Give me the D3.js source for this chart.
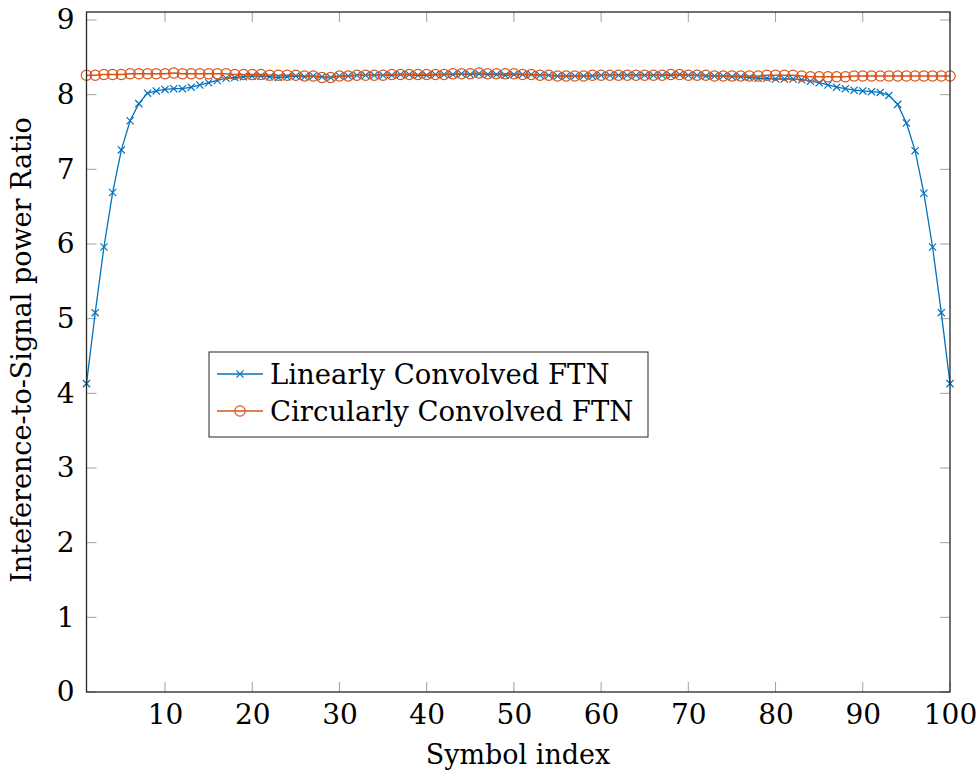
<!DOCTYPE html>
<html>
<head>
<meta charset="utf-8">
<script src="https://cdn.jsdelivr.net/npm/d3@7"></script>
<style>
  html, body { margin: 0; padding: 0; background: #fff; }
  svg text { font-family: "DejaVu Serif", "Liberation Serif", serif; fill: #000; }
</style>
</head>
<body>
<svg id="chart" width="976" height="773"></svg>
<script>
// Symbol index 1..100
const symbolIndex = d3.range(1, 101);

// Interference-to-signal power ratio, linear convolution
const linearISR = [
  4.13, 5.08, 5.96, 6.69, 7.26, 7.65, 7.88, 8.02, 8.05, 8.07,
  8.08, 8.08, 8.10, 8.13, 8.16, 8.19, 8.22, 8.23, 8.24, 8.25,
  8.25, 8.24, 8.23, 8.24, 8.25, 8.24, 8.25, 8.24, 8.23, 8.25,
  8.25, 8.26, 8.26, 8.26, 8.26, 8.26, 8.27, 8.27, 8.26, 8.26,
  8.27, 8.27, 8.27, 8.28, 8.27, 8.28, 8.27, 8.27, 8.26, 8.27,
  8.27, 8.27, 8.26, 8.26, 8.25, 8.25, 8.25, 8.25, 8.25, 8.26,
  8.26, 8.26, 8.26, 8.26, 8.26, 8.26, 8.26, 8.26, 8.27, 8.26,
  8.26, 8.25, 8.25, 8.25, 8.24, 8.24, 8.23, 8.22, 8.22, 8.21,
  8.21, 8.21, 8.20, 8.18, 8.16, 8.13, 8.10, 8.08, 8.06, 8.05,
  8.04, 8.03, 7.99, 7.87, 7.62, 7.25, 6.68, 5.96, 5.08, 4.13
];

// Interference-to-signal power ratio, circular convolution
const circularISR = [
  8.26, 8.26, 8.27, 8.27, 8.27, 8.28, 8.28, 8.28, 8.28, 8.28,
  8.29, 8.28, 8.28, 8.28, 8.28, 8.28, 8.28, 8.27, 8.27, 8.27,
  8.27, 8.26, 8.26, 8.26, 8.26, 8.25, 8.25, 8.23, 8.23, 8.25,
  8.25, 8.26, 8.26, 8.26, 8.26, 8.27, 8.27, 8.27, 8.27, 8.27,
  8.27, 8.27, 8.28, 8.28, 8.28, 8.29, 8.28, 8.28, 8.28, 8.28,
  8.27, 8.27, 8.26, 8.26, 8.25, 8.25, 8.25, 8.25, 8.26, 8.26,
  8.26, 8.26, 8.26, 8.26, 8.26, 8.26, 8.26, 8.27, 8.27, 8.26,
  8.26, 8.26, 8.25, 8.25, 8.25, 8.25, 8.25, 8.25, 8.26, 8.26,
  8.26, 8.26, 8.25, 8.24, 8.24, 8.24, 8.24, 8.24, 8.25, 8.25,
  8.25, 8.25, 8.25, 8.25, 8.25, 8.25, 8.25, 8.25, 8.25, 8.25
];

const xTicks = [10, 20, 30, 40, 50, 60, 70, 80, 90, 100];
const yTicks = [0, 1, 2, 3, 4, 5, 6, 7, 8, 9];

const seriesNames = ["Linearly Convolved FTN", "Circularly Convolved FTN"];
const seriesColors = ["#0072BD", "#D95319"];

const svg = d3.select("#chart");
const plotLeft = 86.5, plotRight = 950, plotTop = 12, plotBottom = 692;

const x = d3.scaleLinear().domain([1, 100]).range([plotLeft, plotRight]);
const y = d3.scaleLinear().domain([0, 9.107]).range([plotBottom, plotTop]);

const tickLen = 10;
const tickColor = "#a0a0a0";

// tick marks pointing inwards from all four sides
const g = svg.append("g");
xTicks.forEach(t => {
  g.append("line").attr("x1", x(t)).attr("x2", x(t)).attr("y1", plotBottom).attr("y2", plotBottom - tickLen)
    .attr("stroke", tickColor).attr("stroke-width", 1);
  g.append("line").attr("x1", x(t)).attr("x2", x(t)).attr("y1", plotTop).attr("y2", plotTop + tickLen)
    .attr("stroke", tickColor).attr("stroke-width", 1);
});
yTicks.forEach(t => {
  g.append("line").attr("x1", plotLeft).attr("x2", plotLeft + tickLen).attr("y1", y(t)).attr("y2", y(t))
    .attr("stroke", tickColor).attr("stroke-width", 1);
  g.append("line").attr("x1", plotRight).attr("x2", plotRight - tickLen).attr("y1", y(t)).attr("y2", y(t))
    .attr("stroke", tickColor).attr("stroke-width", 1);
});

// tick labels
const xAxis = d3.axisBottom(x).tickValues(xTicks).tickSize(0).tickPadding(12);
const xg = svg.append("g").attr("transform", `translate(0,${plotBottom})`).call(xAxis);
xg.select(".domain").remove();
xg.selectAll("text").attr("font-size", 28).attr("font-family", "Liberation Serif").attr("fill", "#000");

const yAxis = d3.axisLeft(y).tickValues(yTicks).tickSize(0).tickPadding(12);
const yg = svg.append("g").attr("transform", `translate(${plotLeft},0)`).call(yAxis);
yg.select(".domain").remove();
yg.selectAll("text").attr("font-size", 28).attr("font-family", "Liberation Serif").attr("fill", "#000");

// series lines and markers
const lineGen = d3.line().x((d, i) => x(symbolIndex[i])).y(d => y(d));

function drawCross(sel, cx, cy, color) {
  const s = 3.6;
  sel.append("path")
    .attr("d", `M${cx - s},${cy - s}L${cx + s},${cy + s}M${cx - s},${cy + s}L${cx + s},${cy - s}`)
    .attr("stroke", color).attr("stroke-width", 1.2).attr("fill", "none");
}
function drawCircle(sel, cx, cy, color) {
  sel.append("circle").attr("cx", cx).attr("cy", cy).attr("r", 5.2)
    .attr("stroke", color).attr("stroke-width", 1.2).attr("fill", "none");
}

const plot = svg.append("g");
plot.append("path").datum(linearISR).attr("d", lineGen)
  .attr("fill", "none").attr("stroke", seriesColors[0]).attr("stroke-width", 1.3);
const crossG = plot.append("g");
linearISR.forEach((v, i) => drawCross(crossG, x(symbolIndex[i]), y(v), seriesColors[0]));

plot.append("path").datum(circularISR).attr("d", lineGen)
  .attr("fill", "none").attr("stroke", seriesColors[1]).attr("stroke-width", 1.3);
const circG = plot.append("g");
circularISR.forEach((v, i) => drawCircle(circG, x(symbolIndex[i]), y(v), seriesColors[1]));

// frame
svg.append("rect").attr("x", plotLeft).attr("y", plotTop).attr("width", plotRight - plotLeft).attr("height", plotBottom - plotTop)
  .attr("fill", "none").attr("stroke", "#262626").attr("stroke-width", 1.3);

// axis titles
svg.append("text").attr("x", 518).attr("y", 764).attr("text-anchor", "middle")
  .attr("font-size", 27).text("Symbol index");
svg.append("text").attr("transform", `translate(31,350) rotate(-90)`)
  .attr("text-anchor", "middle").attr("font-size", 27).text("Inteference-to-Signal power Ratio");

// legend
const lg = svg.append("g");
lg.append("rect").attr("x", 209).attr("y", 352).attr("width", 439).attr("height", 85)
  .attr("fill", "#fff").attr("stroke", "#262626").attr("stroke-width", 1);
const rows = [374, 411];
rows.forEach((ry, i) => {
  lg.append("line").attr("x1", 217).attr("x2", 263).attr("y1", ry).attr("y2", ry)
    .attr("stroke", seriesColors[i]).attr("stroke-width", 1.3);
  if (i === 0) drawCross(lg, 240, ry, seriesColors[0]);
  else drawCircle(lg, 240, ry, seriesColors[1]);
  lg.append("text").attr("x", 270).attr("y", ry + 10).attr("font-size", 27.5).text(seriesNames[i]);
});
</script>
</body>
</html>
